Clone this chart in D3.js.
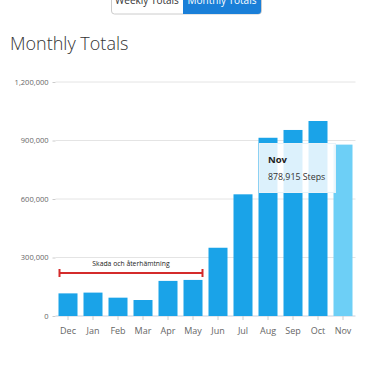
<!DOCTYPE html>
<html><head><meta charset="utf-8">
<script src="https://cdn.jsdelivr.net/npm/d3@7"></script>
<style>
body{margin:0;background:#fff;font-family:"Open Sans",sans-serif;}
svg{display:block;}
</style></head><body>
<svg id="c" width="365" height="365"></svg>
<script>
const months = ["Dec","Jan","Feb","Mar","Apr","May","Jun","Jul","Aug","Sep","Oct","Nov"];
const steps = [116000,120000,94000,82000,180000,185000,350000,624000,914000,954000,1000000,878915];
const yTicks = [0,300000,600000,900000,1200000];
const annotation = {label:"Skada och återhämtning", from:"Dec", to:"May"};
const tooltipMonth = "Nov";

const svg = d3.select("#c");
const m = {l:55.5, r:355.5, t:82, b:316};
const x = d3.scaleBand().domain(months).range([m.l,m.r]).paddingInner(0.24).paddingOuter(0.12);
const y = d3.scaleLinear().domain([0,1200000]).range([m.b,m.t]);

// toggle buttons
const btn = svg.append("g");
btn.append("rect").attr("x",111.5).attr("y",-10).attr("width",150).attr("height",24).attr("rx",3)
  .attr("fill","#fff").attr("stroke","#ccc");
btn.append("path").attr("d","M183,-10 H258 a3,3 0 0 1 3,3 V11 a3,3 0 0 1 -3,3 H183 Z").attr("fill","#1a7fd8");
btn.append("text").attr("x",147).attr("y",4).attr("text-anchor","middle").attr("font-size",10).attr("fill","#333").text("Weekly Totals");
btn.append("text").attr("x",222).attr("y",4).attr("text-anchor","middle").attr("font-size",10).attr("fill","#fff").text("Monthly Totals");

svg.append("text").attr("x",10).attr("y",50).attr("font-size",18).attr("font-weight",300)
  .attr("fill","#333").text("Monthly Totals");

// grid
svg.append("g").selectAll("line").data(yTicks).join("line")
  .attr("x1",m.l).attr("x2",m.r).attr("y1",d=>y(d)).attr("y2",d=>y(d))
  .attr("stroke",d=>d===0?"#c8d0de":"#e4e4e4").attr("stroke-width",1);

const ya = svg.append("g").attr("transform",`translate(${m.l},0)`)
  .call(d3.axisLeft(y).tickValues(yTicks).tickFormat(d3.format(",")).tickSize(3).tickPadding(4));
ya.select(".domain").remove();
ya.selectAll("line").attr("stroke","#ccc");
ya.selectAll("text").attr("font-family","Open Sans").attr("font-size",7.5).attr("fill","#666");

const xa = svg.append("g").attr("transform",`translate(0,${m.b})`)
  .call(d3.axisBottom(x).tickSize(4).tickPadding(8));
xa.select(".domain").remove();
xa.selectAll("line").attr("stroke","#ccc");
xa.selectAll("text").attr("font-family","Open Sans").attr("font-size",9).attr("fill","#666");

svg.append("g").selectAll("rect").data(months).join("rect")
  .attr("x",d=>x(d)).attr("width",x.bandwidth())
  .attr("y",(d,i)=>y(steps[i])).attr("height",(d,i)=>y(0)-y(steps[i]))
  .attr("fill",d=>d===tooltipMonth?"#6dcff6":"#1aa3e8");

// annotation
const ax1 = x(annotation.from)+1, ax2 = x(annotation.to)+x.bandwidth();
const ay = 273;
const ann = svg.append("g").attr("stroke","#d42b2b").attr("stroke-width",2);
ann.append("line").attr("x1",ax1).attr("x2",ax2).attr("y1",ay).attr("y2",ay);
ann.append("line").attr("x1",ax1).attr("x2",ax1).attr("y1",ay-4).attr("y2",ay+4);
ann.append("line").attr("x1",ax2).attr("x2",ax2).attr("y1",ay-4).attr("y2",ay+4);
svg.append("text").attr("x",(ax1+ax2)/2).attr("y",ay-7).attr("text-anchor","middle")
  .attr("font-size",6.8).attr("fill","#222").text(annotation.label);

// tooltip
const ti = months.indexOf(tooltipMonth);
const tg = svg.append("g");
tg.append("rect").attr("x",259.5).attr("y",143.5).attr("width",76).attr("height",49)
  .attr("fill","#fff").attr("fill-opacity",0.85).attr("stroke","#e8f2f8");
tg.append("text").attr("x",268).attr("y",163).attr("font-size",9.5).attr("font-weight",700).attr("fill","#222").text(tooltipMonth);
tg.append("text").attr("x",268).attr("y",180).attr("font-size",8.8).attr("fill","#333")
  .text(d3.format(",")(steps[ti])+" Steps");
</script>
</body></html>
